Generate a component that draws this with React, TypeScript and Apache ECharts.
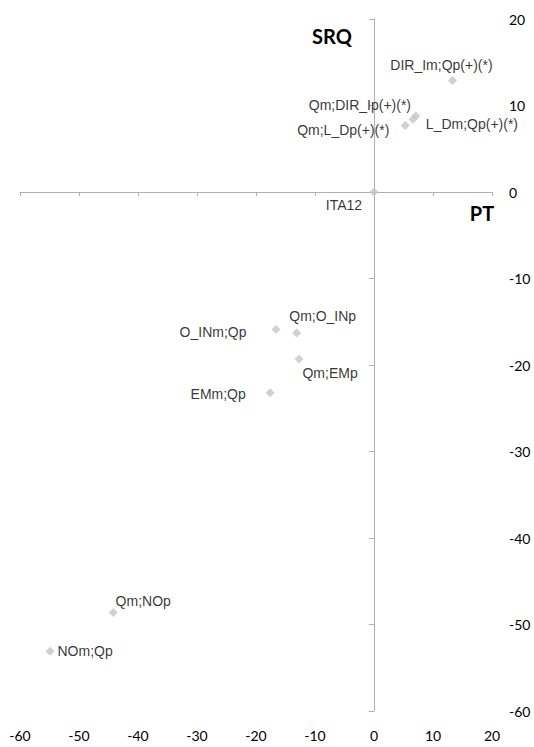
import React, { useEffect, useRef } from "react";
import * as echarts from "echarts";

const names = [
  "DIR_Im;Qp(+)(*)",
  "Qm;DIR_Ip(+)(*)",
  "L_Dm;Qp(+)(*)",
  "Qm;L_Dp(+)(*)",
  "ITA12",
  "O_INm;Qp",
  "Qm;O_INp",
  "Qm;EMp",
  "EMm;Qp",
  "Qm;NOp",
  "NOm;Qp",
];
const ptValues = [13.3, 7.1, 6.6, 5.3, 0, -16.6, -13.1, -12.7, -17.6, -44.2, -54.9];
const srqValues = [12.9, 8.8, 8.4, 7.7, 0, -15.9, -16.3, -19.3, -23.2, -48.6, -53.1];

const axisMin = -60;
const axisMax = 20;
const axisStep = 10;

const xTitle = "PT";
const yTitle = "SRQ";

// label placement (style), offset from marker centre
const labelOffsets: Record<string, [number, number]> = {
  "DIR_Im;Qp(+)(*)": [-11, -15],
  "Qm;DIR_Ip(+)(*)": [-56, -11],
  "L_Dm;Qp(+)(*)": [59, 5],
  "Qm;L_Dp(+)(*)": [-62, 5],
  ITA12: [-30, 13],
  "O_INm;Qp": [-63, 2],
  "Qm;O_INp": [26, -17],
  "Qm;EMp": [31, 14],
  "EMm;Qp": [-52, 1],
  "Qm;NOp": [30, -11],
  "NOm;Qp": [35, 0],
};

const AXIS_COLOR = "#b0b0b0";
const TICK_FONT = "Lato";
const LABEL_FONT = "'Liberation Sans', Arial";

export default function App() {
  const ref = useRef<HTMLDivElement>(null);
  useEffect(() => {
    if (!ref.current) return;
    const chart = echarts.init(ref.current, undefined, { renderer: "svg" });
    const data = names.map((n, i) => ({
      name: n,
      value: [ptValues[i], srqValues[i]],
      label: { offset: labelOffsets[n] || [0, 0] },
    }));
    const baseAxis = {
      type: "value" as const,
      min: axisMin,
      max: axisMax,
      interval: axisStep,
      splitLine: { show: false },
    };
    chart.setOption({
      animation: false,
      backgroundColor: "#ffffff",
      grid: { left: 20, right: 42, top: 19, bottom: 36, containLabel: false },
      xAxis: [
        {
          ...baseAxis,
          position: "top",
          axisLine: { show: true, onZero: true, onZeroAxisIndex: 0, lineStyle: { color: AXIS_COLOR, width: 1 } },
          axisTick: { show: true, inside: true, length: 4, lineStyle: { color: AXIS_COLOR } },
          axisLabel: { show: false },
        },
        {
          ...baseAxis,
          position: "bottom",
          axisLine: { show: false, onZero: false },
          axisTick: { show: false },
          axisLabel: { show: true, color: "#000", fontFamily: TICK_FONT, fontSize: 14, margin: 17 },
        },
      ],
      yAxis: [
        {
          ...baseAxis,
          position: "left",
          axisLine: { show: true, onZero: true, onZeroAxisIndex: 0, lineStyle: { color: AXIS_COLOR, width: 1 } },
          axisTick: { show: true, inside: false, length: 5, lineStyle: { color: AXIS_COLOR } },
          axisLabel: { show: false },
        },
        {
          ...baseAxis,
          position: "right",
          axisLine: { show: false, onZero: false },
          axisTick: { show: false },
          axisLabel: { show: true, color: "#000", fontFamily: TICK_FONT, fontSize: 14, margin: 17 },
        },
      ],
      series: [
        {
          type: "scatter",
          xAxisIndex: 0,
          yAxisIndex: 0,
          symbol: "diamond",
          symbolSize: 9,
          itemStyle: { color: "#c6c6c6" },
          label: {
            show: true,
            position: "inside",
            formatter: "{b}",
            color: "#000",
            fontFamily: LABEL_FONT,
            fontSize: 14,
            align: "center",
            verticalAlign: "middle",
          },
          data,
        },
      ],
      graphic: [
        {
          type: "text",
          x: 332,
          y: 36,
          style: {
            text: yTitle,
            fill: "#000",
            font: "bold 20px Lato",
            textAlign: "center",
            textVerticalAlign: "middle",
          },
        },
        {
          type: "text",
          x: 482,
          y: 213,
          style: {
            text: xTitle,
            fill: "#000",
            font: "bold 20px Lato",
            textAlign: "center",
            textVerticalAlign: "middle",
          },
        },
      ],
    });
    return () => chart.dispose();
  }, []);
  return (
    <div
      ref={ref}
      style={{ position: "fixed", left: 0, top: 0, width: 534, height: 747, background: "#fff" }}
    />
  );
}
